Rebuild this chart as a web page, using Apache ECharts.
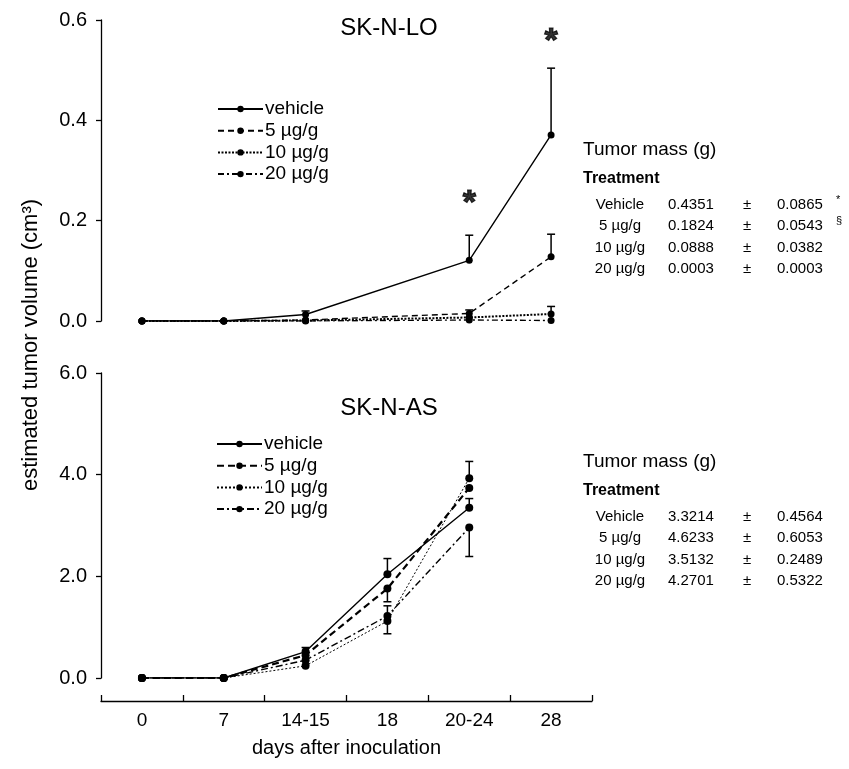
<!DOCTYPE html>
<html>
<head>
<meta charset="utf-8">
<script src="https://cdn.jsdelivr.net/npm/echarts@6/dist/echarts.min.js"></script>
<style>html,body{margin:0;padding:0;background:#fff;}#c{width:849px;height:769px;}</style>
</head>
<body>
<div id="c"></div>
<script>
// ---------- data ----------
const categories = ['0', '7', '14-15', '18', '20-24', '28'];
const groupNames = ['vehicle', '5 µg/g', '10 µg/g', '20 µg/g'];

// SK-N-LO (top) mean volumes (cm3)
const loVehicle = [0, 0, 0.013, null, 0.121, 0.371];
const lo5 = [0, 0, 0.002, null, 0.015, 0.128];
const lo10 = [0, 0, 0.001, null, 0.007, 0.014];
const lo20 = [0, 0, 0.000, null, 0.002, 0.001];
// error bar ends
const loVehicleErr = [null, null, 0.020, null, 0.171, 0.504];
const lo5Err = [null, null, null, null, 0.022, 0.173];
const lo10Err = [null, null, null, null, null, 0.029];
const lo20Err = [null, null, null, null, null, null];
const loStars = [['20-24', 0.234], ['28', 0.556]];

// SK-N-AS (bottom)
const asVehicle = [0, 0, 0.52, 2.04, 3.35, null];
const as5 = [0, 0, 0.45, 1.76, 3.74, null];
const as10 = [0, 0, 0.24, 1.12, 3.93, null];
const as20 = [0, 0, 0.35, 1.22, 2.96, null];
const asVehicleErr = [null, null, 0.60, 2.35, 3.53, null];
const as5Err = [null, null, null, 1.50, null, null];
const as10Err = [null, null, null, 0.87, 4.26, null];
const as20Err = [null, null, null, 1.42, 2.39, null];

// tick labels
const loTicks = [0, 0.2, 0.4, 0.6];
const asTicks = [0, 2, 4, 6];

// tumor mass tables
const tableLabels = ['Vehicle', '5 µg/g', '10 µg/g', '20 µg/g'];
const loMassMean = ['0.4351', '0.1824', '0.0888', '0.0003'];
const loMassSD = ['0.0865', '0.0543', '0.0382', '0.0003'];
const loMassMark = ['*', '§', '', ''];
const asMassMean = ['3.3214', '4.6233', '3.5132', '4.2701'];
const asMassSD = ['0.4564', '0.6053', '0.2489', '0.5322'];

// ---------- chart ----------
const FF = '"Liberation Sans", Arial, sans-serif';
const chart = echarts.init(document.getElementById('c'), null, {renderer: 'canvas'});

const loStyles = [
  {type: 'solid', width: 1.4},
  {type: [6, 4], width: 1.4},
  {type: [2, 1.5], width: 2},
  {type: [6, 3, 2, 3], width: 1.4}
];
const asStyles = [
  {type: 'solid', width: 1.4},
  {type: [7, 4], width: 2.2},
  {type: [2, 2], width: 1},
  {type: [7, 3, 2, 3], width: 1.4}
];

function errRender(params, api) {
  const x = api.value(0), y0 = api.value(1), y1 = api.value(2);
  const p0 = api.coord([x, y0]);
  const p1 = api.coord([x, y1]);
  const hw = 4;
  return {
    type: 'group',
    children: [
      {type: 'line', shape: {x1: p0[0], y1: p0[1], x2: p1[0], y2: p1[1]}, style: {stroke: '#000', lineWidth: 1.5}},
      {type: 'line', shape: {x1: p1[0] - hw, y1: p1[1], x2: p1[0] + hw, y2: p1[1]}, style: {stroke: '#000', lineWidth: 1.5}}
    ]
  };
}
function errData(vals, ends) {
  const out = [];
  ends.forEach((e, i) => { if (e !== null && vals[i] !== null) out.push([i, vals[i], e]); });
  return out;
}

const loVals = [loVehicle, lo5, lo10, lo20];
const loErrs = [loVehicleErr, lo5Err, lo10Err, lo20Err];
const asVals = [asVehicle, as5, as10, as20];
const asErrs = [asVehicleErr, as5Err, as10Err, as20Err];

const series = [];
loVals.forEach((v, k) => {
  series.push({
    name: groupNames[k], type: 'line', xAxisIndex: 0, yAxisIndex: 0, data: v, connectNulls: true,
    symbol: 'circle', symbolSize: 7, itemStyle: {color: '#000'},
    lineStyle: Object.assign({color: '#000'}, loStyles[k]), z: 3, animation: false
  });
});
asVals.forEach((v, k) => {
  series.push({
    name: groupNames[k] + ' ', type: 'line', xAxisIndex: 1, yAxisIndex: 1, data: v,
    symbol: 'circle', symbolSize: 8, itemStyle: {color: '#000'},
    lineStyle: Object.assign({color: '#000'}, asStyles[k]), z: 3, animation: false
  });
});
loErrs.forEach((e, k) => {
  series.push({name: 'loerr' + k, type: 'custom', xAxisIndex: 0, yAxisIndex: 0, renderItem: errRender,
    encode: {x: 0, y: [1, 2]}, data: errData(loVals[k], e), z: 2, animation: false});
});
asErrs.forEach((e, k) => {
  series.push({name: 'aserr' + k, type: 'custom', xAxisIndex: 1, yAxisIndex: 1, renderItem: errRender,
    encode: {x: 0, y: [1, 2]}, data: errData(asVals[k], e), z: 2, animation: false});
});
series.push({
  name: 'stars', type: 'scatter', xAxisIndex: 0, yAxisIndex: 0, data: loStars, symbolSize: 0,
  label: {show: true, position: 'inside', formatter: '*', fontSize: 34, fontWeight: 'bold', color: '#000',
    textBorderColor: '#000', textBorderWidth: 1.2, fontFamily: FF},
  emphasis: {disabled: true},
  animation: false
});

function yAxisCfg(gi, max, interval) {
  return {
    type: 'value', gridIndex: gi, min: 0, max: max, interval: interval,
    axisLine: {show: true, lineStyle: {color: '#000', width: 1.3}},
    axisTick: {show: true, inside: false, length: 5, lineStyle: {color: '#000', width: 1.3}},
    axisLabel: {fontSize: 20, fontFamily: FF, color: '#000', margin: 14, formatter: v => v.toFixed(1)},
    splitLine: {show: false}
  };
}

// tables
const graphics = [];
function table(y0, mean, sd, marks) {
  graphics.push({type: 'text', x: 583, y: y0, style: {text: 'Tumor mass (g)', fontSize: 19, fontFamily: FF, fill: '#000', textVerticalAlign: 'middle'}});
  graphics.push({type: 'text', x: 583, y: y0 + 29, style: {text: 'Treatment', fontSize: 16, fontWeight: 'bold', fontFamily: FF, fill: '#000', textVerticalAlign: 'middle'}});
  tableLabels.forEach((lab, i) => {
    const y = y0 + 55 + i * 21.3;
    graphics.push({type: 'text', x: 620, y: y, style: {text: lab, fontSize: 15, fontFamily: FF, fill: '#000', textAlign: 'center', textVerticalAlign: 'middle'}});
    graphics.push({type: 'text', x: 668, y: y, style: {text: mean[i], fontSize: 15, fontFamily: FF, fill: '#000', textVerticalAlign: 'middle'}});
    graphics.push({type: 'text', x: 747, y: y, style: {text: '±', fontSize: 15, fontFamily: FF, fill: '#000', textAlign: 'center', textVerticalAlign: 'middle'}});
    graphics.push({type: 'text', x: 777, y: y, style: {text: sd[i], fontSize: 15, fontFamily: FF, fill: '#000', textVerticalAlign: 'middle'}});
    if (marks && marks[i]) {
      graphics.push({type: 'text', x: 836, y: y - 5, style: {text: marks[i], fontSize: 11, fontFamily: FF, fill: '#000', textVerticalAlign: 'middle'}});
    }
  });
}
table(150, loMassMean, loMassSD, loMassMark);
table(462, asMassMean, asMassSD, null);

graphics.push({type: 'text', x: 389, y: 28, style: {text: 'SK-N-LO', fontSize: 24, fontFamily: FF, fill: '#000', textAlign: 'center', textVerticalAlign: 'middle'}});
graphics.push({type: 'text', x: 389, y: 408, style: {text: 'SK-N-AS', fontSize: 24, fontFamily: FF, fill: '#000', textAlign: 'center', textVerticalAlign: 'middle'}});
graphics.push({type: 'text', x: 31, y: 345, rotation: Math.PI / 2,
  style: {text: 'estimated tumor volume (cm³)', fontSize: 22, fontFamily: FF, fill: '#000', textAlign: 'center', textVerticalAlign: 'middle'}});

const legendBase = {
  orient: 'vertical', itemWidth: 45, itemHeight: 8, itemGap: 1.7, selectedMode: false,
  textStyle: {fontSize: 19, fontFamily: FF, color: '#000', lineHeight: 20, padding: [0, 0, 0, -3]}
};

chart.setOption({
  animation: false,
  backgroundColor: '#fff',
  grid: [
    {left: 101, right: 257, top: 20, height: 301},
    {left: 101, right: 257, top: 373, height: 305}
  ],
  xAxis: [
    {type: 'category', gridIndex: 0, data: categories, boundaryGap: true,
      axisLine: {show: false}, axisTick: {show: false}, axisLabel: {show: false}, splitLine: {show: false}},
    {type: 'category', gridIndex: 1, data: categories, boundaryGap: true, offset: 23, position: 'bottom',
      axisLine: {show: true, onZero: false, lineStyle: {color: '#000', width: 1.3}},
      axisTick: {show: true, inside: true, length: 6, lineStyle: {color: '#000', width: 1.3}},
      axisLabel: {fontSize: 19, fontFamily: FF, color: '#000', margin: 10},
      name: 'days after inoculation', nameLocation: 'middle', nameGap: 37,
      nameTextStyle: {fontSize: 20, fontFamily: FF, color: '#000'}}
  ],
  yAxis: [yAxisCfg(0, loTicks[loTicks.length - 1], loTicks[1] - loTicks[0]), yAxisCfg(1, asTicks[asTicks.length - 1], asTicks[1] - asTicks[0])],
  legend: [
    Object.assign({}, legendBase, {data: groupNames, left: 212, top: 94}),
    Object.assign({}, legendBase, {data: groupNames.map(n => n + ' '), left: 211, top: 429, formatter: n => n.trim()})
  ],
  graphic: graphics,
  series: series
});
</script>
</body>
</html>
